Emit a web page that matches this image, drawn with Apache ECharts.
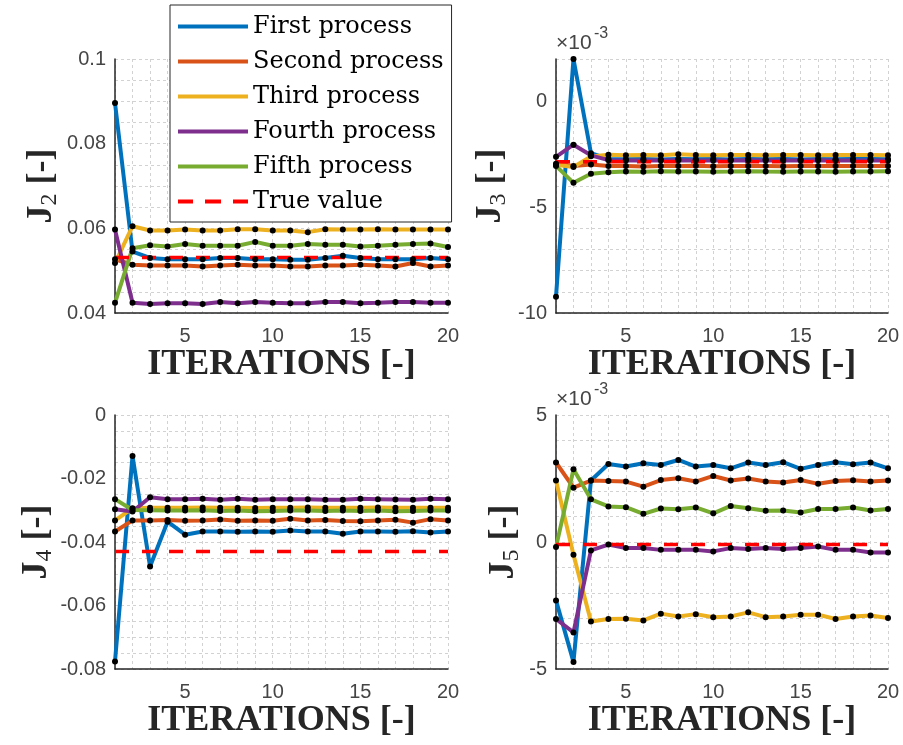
<!DOCTYPE html>
<html>
<head>
<meta charset="utf-8">
<script src="https://cdn.jsdelivr.net/npm/echarts@6/dist/echarts.min.js"></script>
<style>
html,body{margin:0;padding:0;background:#fff}
#main{width:903px;height:745px}
</style>
</head>
<body>
<div id="main"></div>
<script>
// iteration index (x axis)
var iterations = [1,2,3,4,5,6,7,8,9,10,11,12,13,14,15,16,17,18,19,20];

var processNames = ['First process','Second process','Third process','Fourth process','Fifth process'];
var processColors = ['#0072BD','#D95319','#EDB120','#7E2F8E','#77AC30'];

// J2
var j2First  = [0.0896,0.0545,0.0530,0.0527,0.0527,0.0527,0.0530,0.0530,0.0527,0.0527,0.0526,0.0526,0.0530,0.0535,0.0530,0.0527,0.0527,0.0527,0.0530,0.0527];
var j2Second = [0.0527,0.0514,0.0512,0.0512,0.0512,0.0510,0.0512,0.0514,0.0512,0.0512,0.0510,0.0510,0.0512,0.0512,0.0514,0.0512,0.0510,0.0518,0.0510,0.0512];
var j2Third  = [0.0518,0.0605,0.0595,0.0595,0.0597,0.0595,0.0595,0.0598,0.0598,0.0595,0.0595,0.0591,0.0598,0.0597,0.0597,0.0598,0.0597,0.0597,0.0597,0.0597];
var j2Fourth = [0.0597,0.0424,0.0421,0.0423,0.0423,0.0421,0.0426,0.0423,0.0426,0.0424,0.0423,0.0423,0.0426,0.0426,0.0423,0.0424,0.0426,0.0426,0.0424,0.0424];
var j2Fifth  = [0.0424,0.0553,0.0560,0.0557,0.0563,0.0559,0.0559,0.0559,0.0568,0.0559,0.0559,0.0563,0.0561,0.0561,0.0557,0.0559,0.0561,0.0563,0.0564,0.0556];
var j2True = 0.0531;

// J3 (x 1e-3)
var j3First  = [-9.23,2.0,-2.45,-2.72,-2.74,-2.72,-2.75,-2.73,-2.74,-2.72,-2.75,-2.73,-2.74,-2.72,-2.75,-2.73,-2.74,-2.73,-2.72,-2.74];
var j3Second = [-2.95,-3.05,-2.98,-3.06,-3.05,-3.08,-3.05,-3.06,-3.04,-3.07,-3.05,-3.06,-3.05,-3.07,-3.05,-3.06,-3.05,-3.06,-3.05,-3.06];
var j3Third  = [-3.0,-3.1,-2.6,-2.52,-2.55,-2.53,-2.55,-2.5,-2.54,-2.55,-2.53,-2.54,-2.55,-2.53,-2.54,-2.55,-2.53,-2.54,-2.53,-2.55];
var j3Fourth = [-2.62,-2.05,-2.55,-2.78,-2.8,-2.79,-2.8,-2.78,-2.79,-2.8,-2.79,-2.78,-2.8,-2.79,-2.8,-2.78,-2.79,-2.8,-2.79,-2.8];
var j3Fifth  = [-3.05,-3.85,-3.42,-3.35,-3.32,-3.33,-3.3,-3.32,-3.31,-3.33,-3.32,-3.3,-3.32,-3.33,-3.31,-3.32,-3.33,-3.31,-3.32,-3.3];
var j3True = -2.85;

// J4
var j4First  = [-0.0776,-0.0129,-0.0477,-0.0336,-0.0377,-0.0367,-0.0367,-0.0368,-0.0367,-0.0368,-0.0364,-0.0367,-0.0367,-0.0374,-0.0367,-0.0367,-0.0368,-0.0366,-0.0370,-0.0367];
var j4Second = [-0.0367,-0.0332,-0.0332,-0.0331,-0.0333,-0.0332,-0.0329,-0.0333,-0.0332,-0.0333,-0.0327,-0.0332,-0.0331,-0.0334,-0.0335,-0.0332,-0.0330,-0.0339,-0.0328,-0.0332];
var j4Third  = [-0.0332,-0.0294,-0.0292,-0.0292,-0.0292,-0.0291,-0.0292,-0.0292,-0.0293,-0.0292,-0.0292,-0.0291,-0.0292,-0.0292,-0.0292,-0.0291,-0.0292,-0.0292,-0.0292,-0.0292];
var j4Fourth = [-0.0297,-0.0304,-0.0259,-0.0265,-0.0265,-0.0264,-0.0267,-0.0264,-0.0267,-0.0265,-0.0265,-0.0265,-0.0267,-0.0267,-0.0264,-0.0265,-0.0266,-0.0267,-0.0264,-0.0265];
var j4Fifth  = [-0.0265,-0.0299,-0.0300,-0.0301,-0.0301,-0.0300,-0.0302,-0.0301,-0.0303,-0.0302,-0.0301,-0.0301,-0.0302,-0.0301,-0.0302,-0.0301,-0.0303,-0.0302,-0.0301,-0.0301];
var j4True = -0.043;

// J5 (x 1e-3)
var j5First  = [-2.3,-4.72,2.42,3.07,2.97,3.1,3.03,3.23,2.97,3.03,2.9,3.13,3.03,3.14,2.88,3.03,3.14,3.06,3.13,2.9];
var j5Second = [3.13,2.14,2.42,2.4,2.38,2.18,2.44,2.51,2.38,2.6,2.42,2.5,2.38,2.34,2.44,2.29,2.4,2.43,2.38,2.42];
var j5Third  = [2.42,-0.5,-3.13,-3.03,-3.02,-3.09,-2.82,-2.93,-2.84,-2.96,-2.93,-2.77,-2.96,-2.93,-2.86,-2.86,-3.03,-2.93,-2.89,-2.99];
var j5Fourth = [-3.03,-3.56,-0.33,-0.1,-0.24,-0.24,-0.31,-0.31,-0.31,-0.37,-0.24,-0.28,-0.24,-0.28,-0.24,-0.18,-0.31,-0.31,-0.41,-0.41];
var j5Fifth  = [-0.2,2.86,1.68,1.4,1.37,1.11,1.32,1.29,1.36,1.13,1.42,1.33,1.23,1.24,1.16,1.3,1.3,1.36,1.24,1.3];
var j5True = -0.1;

var panels = [
    {sets:[j2First,j2Second,j2Third,j2Fourth,j2Fifth], truth:j2True, min:0.04, max:0.1, step:0.005, labels:[0.04,0.06,0.08,0.1], sub:'2', gap:53},
    {sets:[j3First,j3Second,j3Third,j3Fourth,j3Fifth], truth:j3True, min:-10, max:2, step:1, labels:[-10,-5,0], sub:'3', gap:45},
    {sets:[j4First,j4Second,j4Third,j4Fourth,j4Fifth], truth:j4True, min:-0.08, max:0, step:0.005, labels:[-0.08,-0.06,-0.04,-0.02,0], sub:'4', gap:53},
    {sets:[j5First,j5Second,j5Third,j5Fourth,j5Fifth], truth:j5True, min:-5, max:5, step:1, labels:[-5,0,5], sub:'5', gap:32}
];

var grids = [
    {left:115, top:59, width:333, height:254},
    {left:556, top:59, width:332, height:254},
    {left:115, top:415, width:333, height:254},
    {left:556, top:415, width:332, height:254}
];

var gridLine = {show:true, lineStyle:{color:'#d2d2d2', type:[3,3], width:1}};
var axisCol = '#262626';
var tickFont = {fontFamily:'Liberation Sans', fontSize:20, color:'#454545'};

var xAxes = [], yAxes = [], series = [];
panels.forEach(function(p, gi){
    xAxes.push({
        gridIndex: gi, type:'value', min:1, max:20, interval:1,
        axisLine:{show:true, onZero:false, lineStyle:{color:axisCol, width:1.5}},
        axisTick:{show:false},
        axisLabel:Object.assign({customValues:[5,10,15,20], margin:13}, tickFont),
        splitLine:gridLine,
        name:'ITERATIONS [-]', nameLocation:'middle', nameGap:30,
        nameTextStyle:{fontFamily:'Liberation Serif', fontWeight:'bold', fontSize:36, color:axisCol}
    });
    yAxes.push({
        gridIndex: gi, type:'value', min:p.min, max:p.max, interval:p.step,
        axisLine:{show:true, onZero:false, lineStyle:{color:axisCol, width:1.5}},
        axisTick:{show:false},
        axisLabel:Object.assign({customValues:p.labels, margin:9,
            formatter:function(v){ return String(parseFloat((+v).toFixed(4))); }}, tickFont),
        splitLine:gridLine,
        name:'{j|J}{s|' + p.sub + '}{j| [-]}', nameLocation:'middle', nameGap:p.gap, nameRotate:90,
        nameTextStyle:{
            color:axisCol,
            rich:{
                j:{fontFamily:'Liberation Serif', fontWeight:'bold', fontSize:36, lineHeight:40, color:axisCol},
                s:{fontFamily:'Liberation Serif', fontWeight:'normal', fontSize:24, lineHeight:24, verticalAlign:'bottom', color:axisCol}
            }
        }
    });
    p.sets.forEach(function(vals, k){
        series.push({
            name:processNames[k], type:'line', xAxisIndex:gi, yAxisIndex:gi,
            data:iterations.map(function(x, i){ return [x, vals[i]]; }),
            symbol:'circle', symbolSize:6, showSymbol:true, showAllSymbol:true,
            itemStyle:{color:'#000'},
            lineStyle:{color:processColors[k], width:4},
            emphasis:{disabled:true}
        });
    });
    series.push({
        name:'True value', type:'line', xAxisIndex:gi, yAxisIndex:gi,
        data:[[iterations[0], p.truth], [iterations[iterations.length-1], p.truth]],
        symbol:'none',
        lineStyle:{color:'#FF0000', width:3.5, type:[14,13]},
        emphasis:{disabled:true}
    });
});

var legendData = processNames.map(function(n, k){
    return {name:n, icon:'path://M0,0h70v4h-70z', itemStyle:{color:processColors[k]}};
});
legendData.push({name:'True value', icon:'path://M0,0h15v4h-15z M27,0h16v4h-16z M55,0h15v4h-15z', itemStyle:{color:'#FF0000'}});

// "x10^-3" multipliers on the J3 and J5 axes
function expLabel(top){
    return [
        {type:'text', left:556, top:top, style:{text:'\u00d710', fontSize:21, fontFamily:'Liberation Sans', fill:'#454545'}},
        {type:'text', left:594, top:top-7, style:{text:'-3', fontSize:16, fontFamily:'Liberation Sans', fill:'#454545'}}
    ];
}

var chart = echarts.init(document.getElementById('main'));
chart.setOption({
    animation:false,
    backgroundColor:'#fff',
    grid:grids,
    xAxis:xAxes,
    yAxis:yAxes,
    legend:{
        data:legendData, orient:'vertical', left:170, top:5,
        itemWidth:70, itemHeight:4, itemGap:0, selectedMode:false,
        padding:[4,8,3,8], backgroundColor:'#fff', borderColor:'#262626', borderWidth:1,
        textStyle:{fontFamily:'DejaVu Serif', fontSize:24, lineHeight:35, color:'#000'}
    },
    graphic:expLabel(33).concat(expLabel(389)),
    series:series
});
</script>
</body>
</html>
